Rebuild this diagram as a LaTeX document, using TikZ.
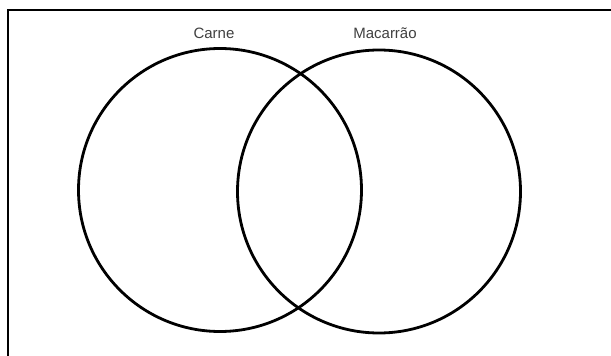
\documentclass[tikz,border=0pt]{standalone}
\usepackage{fontspec}
\setmainfont{Liberation Sans}
\begin{document}
\begin{tikzpicture}[x=1pt,y=-1pt,
  setring/.style={draw=black,line width=2.8pt},
  setlabel/.style={font=\fontsize{15}{17}\selectfont,text=black!75,inner sep=0pt}]
\useasboundingbox (0,0) rectangle (611,356);
\fill[white] (0,0) rectangle (611,356);
\draw[line width=2.8pt] (8,358) -- (8,10) -- (613,10);
\coordinate (lc) at (220,190);
\coordinate (rc) at (379,191.5);
\draw[setring] (lc) circle[radius=141.5];
\draw[setring] (rc) circle[radius=141.5];
\node[setlabel] (carne) at (214,33) {Carne};
\node[setlabel] (macarrao) at (385,33) {Macarrão};
\end{tikzpicture}
\end{document}
